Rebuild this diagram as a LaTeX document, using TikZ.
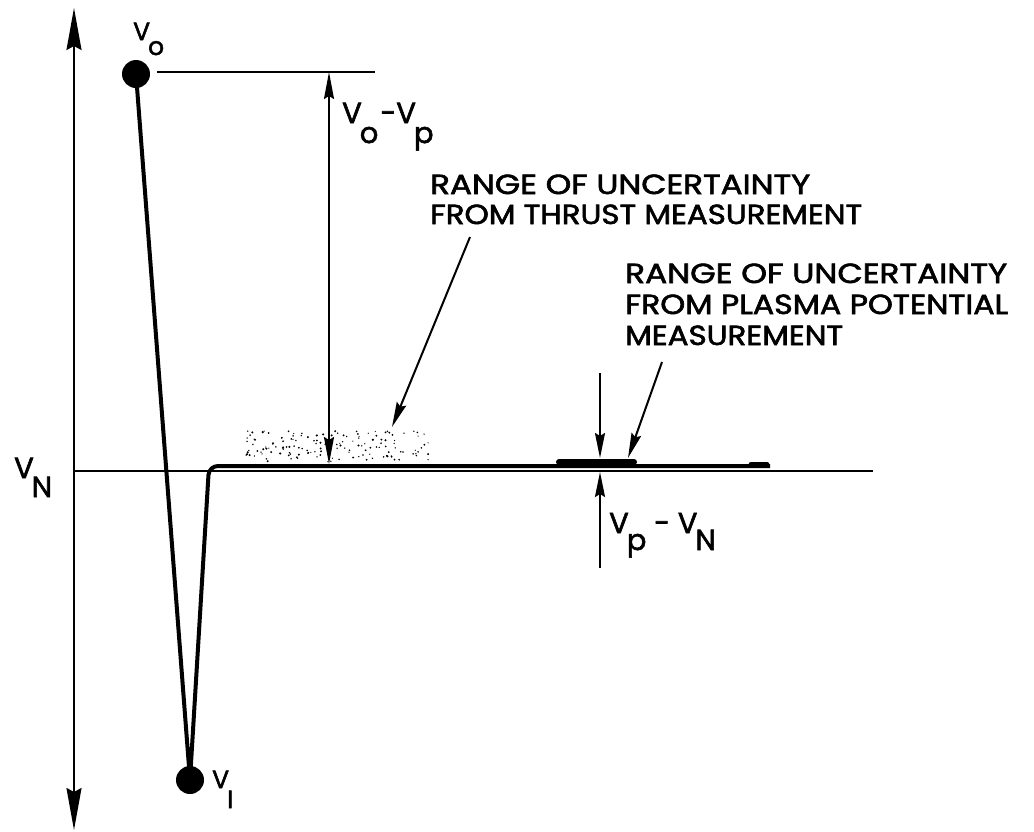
\documentclass[tikz,border=0pt]{standalone}
\usepackage{fontspec}
\setmainfont{Poppins}[FakeBold=2]
\usepackage{graphicx}
\usetikzlibrary{arrows.meta}
\newcommand{\lo}[2][18pt]{\kern-2pt\raisebox{-#1}{#2}}
\newcommand{\fitw}[2]{\resizebox{#1}{19.5pt}{#2}}
\tikzset{
  thin line/.style={line width=2pt},
  curve line/.style={line width=4pt, line join=round, rounded corners=9pt},
  dot/.style={circle, fill=black, inner sep=0pt, minimum size=28pt},
  axis head/.tip={Stealth[length=42pt,width=15pt,inset=4pt]},
  dim head/.tip={Stealth[length=27pt,width=10pt,inset=3pt]},
  ptr head/.tip={Stealth[length=25pt,width=10pt,inset=3pt]},
  label/.style={font=\fontsize{29}{33}\selectfont, inner sep=0pt, anchor=base west},
  small label/.style={label, font=\fontsize{25}{29}\selectfont},
  note/.style={inner sep=0pt, anchor=base west},
}
\begin{document}
\begin{tikzpicture}[x=1pt,y=-1pt]
\fill[white] (0,0) rectangle (1034,831);
\useasboundingbox (0,0) rectangle (1034,831);
% stipple region
\pgfmathsetseed{11}
\foreach \i in {1,...,150}{
  \fill[black] ({246+184*rnd},{431+31*rnd}) circle ({0.6pt+0.6pt*rnd});
}
% axis
\coordinate (axtop) at (74,8);
\coordinate (axbot) at (74,830);
\draw[thin line, {axis head}-{axis head}] (axbot) -- (axtop);
% V_N reference line
\coordinate (vnl) at (74,471);
\coordinate (vnr) at (873,471);
\draw[thin line] (vnl) -- (vnr);
% dots
\node[dot] (v0) at (136,74) {};
\node[dot] (v1) at (190,780) {};
% V0 level line
\coordinate (v0l) at (157,72);
\coordinate (v0r) at (375,72);
\draw[thin line] (v0l) -- (v0r);
% main curve
\coordinate (rise) at (209,466);
\coordinate (cend) at (770,466);
\draw[curve line] (v0.center) -- (v1.center) -- (rise) -- (cend);
\coordinate (b1) at (559,462);
\coordinate (b2) at (634,462);
\draw[line width=6pt, line cap=round] (b1) -- (b2);
\coordinate (e1) at (751,464.5);
\coordinate (e2) at (767,464.5);
\draw[line width=5pt, line cap=round] (e1) -- (e2);
% V0-Vp dimension
\coordinate (d1t) at (329,72);
\coordinate (d1b) at (329,464);
\draw[thin line, {dim head}-{dim head}] (d1b) -- (d1t);
% Vp-VN dimension
\coordinate (d2a) at (600,373);
\coordinate (d2b) at (600,458);
\coordinate (d2c) at (600,568);
\coordinate (d2d) at (600,472);
\draw[thin line, -{ptr head}] (d2a) -- (d2b);
\draw[thin line, -{ptr head}] (d2c) -- (d2d);
% pointer arrows
\coordinate (p1s) at (470,237);
\coordinate (p1e) at (392,427);
\draw[thin line, -{ptr head}] (p1s) -- (p1e);
\coordinate (p2s) at (662,362);
\coordinate (p2e) at (628,458);
\draw[thin line, -{ptr head}] (p2s) -- (p2e);
% labels
\node[small label] (lv0) at (133,40) {V\lo[15pt]{o}};
\node[small label] (lv1) at (212,788) {V\lo[20pt]{I}};
\node[label] (lvn) at (14,478) {V\lo[19pt]{N}};
\node[label] (lvo) at (342,123) {V\lo[20pt]{o}\kern2pt-V\lo[20pt]{p}};
\node[label] (lvp) at (609,533) {V\lo[17pt]{p} - V\lo[17pt]{N}};
% notes
\node[note] (n1a) at (430,194) {\fitw{380pt}{RANGE OF UNCERTAINTY}};
\node[note] (n1b) at (430,224) {\fitw{432pt}{FROM THRUST MEASUREMENT}};
\node[note] (n2a) at (625,283) {\fitw{382pt}{RANGE OF UNCERTAINTY}};
\node[note] (n2b) at (625,314) {\fitw{383pt}{FROM PLASMA POTENTIAL}};
\node[note] (n2c) at (625,345) {\fitw{218pt}{MEASUREMENT}};
\end{tikzpicture}
\end{document}
